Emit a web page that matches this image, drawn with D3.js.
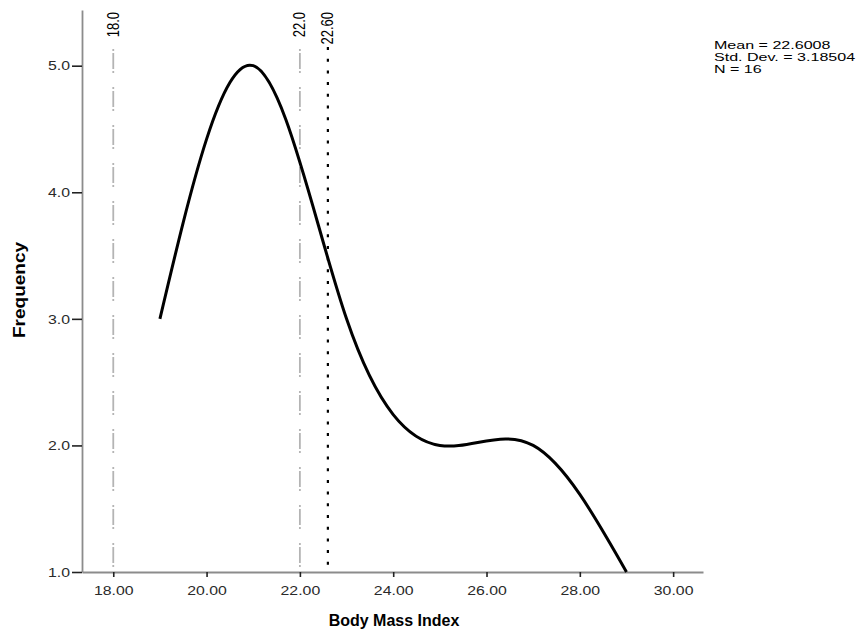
<!DOCTYPE html>
<html><head><meta charset="utf-8">
<script src="https://cdn.jsdelivr.net/npm/d3@7"></script>
<style>body{margin:0;background:#fff}</style>
</head><body>
<svg id="c" width="859" height="634"></svg>
<script>
const bmi = [19, 21, 23, 25, 27, 29];
const freq = [3, 5, 3, 2, 2, 1];
const xTicks = [18, 20, 22, 24, 26, 28, 30];
const yTicks = [1, 2, 3, 4, 5];
const refLines = [
  {value: 18.0, label: "18.0", kind: "dashdot"},
  {value: 22.0, label: "22.0", kind: "dashdot"},
  {value: 22.60, label: "22.60", kind: "dot"}
];
const stats = ["Mean = 22.6008", "Std. Dev. = 3.18504", "N = 16"];

const SX = 1.22; // horizontal stretch of small text
const svg = d3.select("#c");
const font = "'Liberation Sans', Arial, sans-serif";
const x = d3.scaleLinear().domain([17.33, 30.64]).range([82, 703]);
const y = d3.scaleLinear().domain([1, 5.44]).range([572, 10]);

// reference lines
refLines.forEach(r => {
  const g = svg.append("g");
  const dot = r.kind === "dot";
  g.append("line").attr("x1", x(r.value)).attr("x2", x(r.value))
    .attr("y1", dot ? 47 : 49).attr("y2", 572)
    .attr("stroke", dot ? "#000" : "#b4b4b4")
    .attr("stroke-width", dot ? 2.2 : 1.8)
    .attr("stroke-dasharray", dot ? "3,8.7" : "2,2,16,2,2,14");
  g.append("text")
    .attr("transform", `translate(${x(r.value) + 5.5},12) scale(${SX},1) rotate(-90)`)
    .attr("text-anchor", "end")
    .attr("font-family", font).attr("font-size", 13).attr("fill", "#000")
    .text(r.label);
});

// axes
const xa = svg.append("g").attr("transform", "translate(0,572)")
  .call(d3.axisBottom(x).tickValues(xTicks).tickFormat(d3.format(".2f")).tickSize(5).tickPadding(9).tickSizeOuter(0));
const ya = svg.append("g").attr("transform", "translate(82,0)")
  .call(d3.axisLeft(y).tickValues(yTicks).tickFormat(d3.format(".1f")).tickSize(10).tickSizeOuter(0));
[xa, ya].forEach(a => {
  a.select(".domain").attr("stroke", "#8c8c8c").attr("stroke-width", 1.8);
  a.selectAll(".tick line").attr("stroke", "#222").attr("stroke-width", 1.6);
  a.selectAll("text").attr("font-family", font).attr("font-size", 13).attr("fill", "#2a2a2a")
    .attr("transform", `scale(${SX},1)`);
});
ya.selectAll(".tick text").attr("x", -12 / SX);

// curve
const pts = bmi.map((b, i) => [b, freq[i]]);
svg.append("path").datum(pts)
  .attr("d", d3.line().x(d => x(d[0])).y(d => y(d[1])).curve(d3.curveNatural))
  .attr("fill", "none").attr("stroke", "#000").attr("stroke-width", 3);

// titles
svg.append("text").attr("x", 394).attr("y", 626).attr("text-anchor", "middle")
  .attr("font-family", font).attr("font-size", 16).attr("font-weight", "bold").text("Body Mass Index");
svg.append("text").attr("transform", "translate(25,290) rotate(-90)").attr("text-anchor", "middle")
  .attr("font-family", font).attr("font-size", 16).attr("font-weight", "bold")
  .attr("textLength", 96).attr("lengthAdjust", "spacingAndGlyphs").text("Frequency");

// stats
svg.append("g").selectAll("text").data(stats).join("text")
  .attr("transform", (d, i) => `translate(714,${49 + i * 12}) scale(1.46,1)`)
  .attr("font-family", font).attr("font-size", 11).attr("fill", "#000").text(d => d);
</script>
</body></html>
